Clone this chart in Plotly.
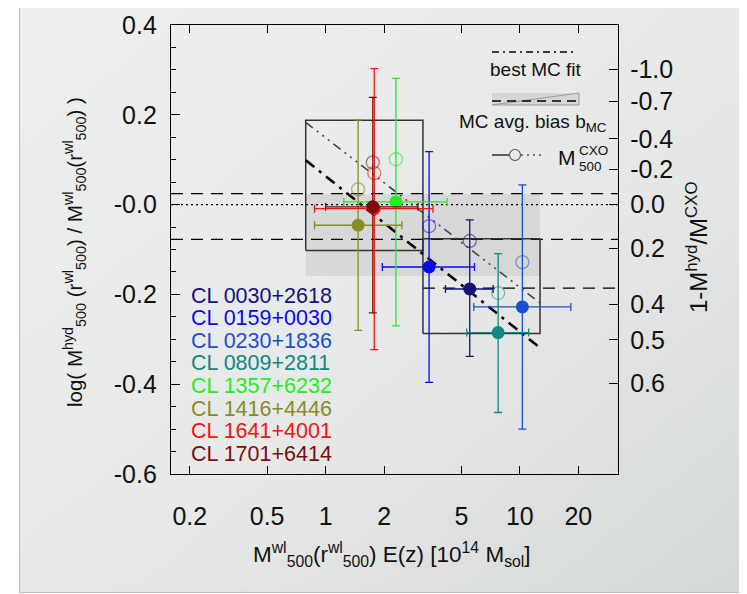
import base64
import numpy as np
import plotly.graph_objects as go

# ---------------- data ----------------
clusters = ["CL 0030+2618", "CL 0159+0030", "CL 0230+1836", "CL 0809+2811",
            "CL 1357+6232", "CL 1416+4446", "CL 1641+4001", "CL 1701+6414"]
colors = ["#12127a", "#0a0af0", "#1a4fd0", "#138585",
          "#22ee22", "#8a8a28", "#ee1515", "#7a0e0e"]
cxo_colors = ["rgba(18,18,122,0.55)", "rgba(10,10,240,0.5)", "rgba(26,79,208,0.5)", "rgba(19,133,133,0.5)",
              "rgba(34,238,34,0.6)", "rgba(138,138,40,0.6)", "rgba(238,21,21,0.55)", "rgba(122,14,14,0.55)"]
mass_wl = [5.52, 3.41, 10.3, 7.73, 2.30, 1.47, 1.78, 1.75]
mass_lo = [4.14, 1.96, 5.79, 5.33, 1.24, 0.877, 0.877, 1.00]
mass_hi = [7.28, 5.84, 18.3, 11.1, 4.22, 2.47, 3.57, 2.99]
bias_hyd = [-0.188, -0.139, -0.228, -0.285, 0.006, -0.046, -0.009, -0.005]
bias_lo = [-0.338, -0.396, -0.500, -0.463, -0.270, -0.280, -0.323, -0.241]
bias_hi = [-0.034, 0.118, 0.044, -0.109, 0.281, 0.189, 0.303, 0.239]
bias_cxo = [-0.081, -0.048, -0.128, -0.197, 0.101, 0.034, 0.070, 0.094]

bin_edges = [0.79, 3.17, 12.7]
bin_bias_lo = [-0.102, -0.287]
bin_bias_hi = [0.188, -0.076]
mc_band = [-0.159, 0.023]
mc_bias_levels = [0.0245, -0.0775, -0.186]
mc_bias_start = [0.16, 0.16, 3.17]
fit_mc_x = [0.79, 12.7]
fit_mc_y = [0.099, -0.319]
fit_cxo_x = [0.79, 12.7]
fit_cxo_y = [0.183, -0.219]

x_range = [0.16, 32.0]
y_range = [-0.6, 0.4]
x_ticks = [0.2, 0.5, 1, 2, 5, 10, 20]
x_ticktext = ["0.2", "0.5", "1", "2", "5", "10", "20"]
y_ticks = [-0.6, -0.4, -0.2, 0.0, 0.2, 0.4]
y_ticktext = ["-0.6", "-0.4", "-0.2", "-0.0", "0.2", "0.4"]
b_ticks = [-1.0, -0.7, -0.4, -0.2, 0.0, 0.2, 0.4, 0.5, 0.6]
b_ticktext = ["-1.0", "-0.7", "-0.4", "-0.2", "0.0", "0.2", "0.4", "0.5", "0.6"]

# ---------------- geometry helpers (layout) ----------------
OFF = 8  # page body margin
W, H = 747 - OFF, 594 - OFF
PW, PH = 447, 449
L, T = 171 - OFF, 25 - OFF
R, B = W - L - PW, H - T - PH


def px(xp):
    return (xp - OFF - L) / PW


def py(yp):
    return (T + PH - (yp - OFF)) / PH


FONT = "Liberation Sans, Arial, Helvetica, sans-serif"

fig = go.Figure()

# MC grey band
fig.add_trace(go.Scatter(
    x=[bin_edges[0], bin_edges[-1], bin_edges[-1], bin_edges[0], bin_edges[0]],
    y=[mc_band[0], mc_band[0], mc_band[1], mc_band[1], mc_band[0]],
    mode="lines", fill="toself", fillcolor="rgba(200,200,200,0.55)",
    line=dict(width=0), hoverinfo="skip"))

# zero line
fig.add_trace(go.Scatter(x=x_range, y=[0, 0], mode="lines",
                         line=dict(color="black", width=1.2, dash="2px,3px"), hoverinfo="skip"))

# MC avg bias dashed lines
for lev, xs in zip(mc_bias_levels, mc_bias_start):
    fig.add_trace(go.Scatter(x=[xs, x_range[1]], y=[lev, lev], mode="lines",
                             line=dict(color="black", width=1.3, dash="12px,8px"), hoverinfo="skip"))

# bin boxes
for i in range(len(bin_edges) - 1):
    x0, x1 = bin_edges[i], bin_edges[i + 1]
    y0, y1 = bin_bias_lo[i], bin_bias_hi[i]
    fig.add_trace(go.Scatter(x=[x0, x1, x1, x0, x0], y=[y0, y0, y1, y1, y0], mode="lines",
                             line=dict(color="#333333", width=1.5), hoverinfo="skip"))

# fits
fig.add_trace(go.Scatter(x=fit_cxo_x, y=fit_cxo_y, mode="lines",
                         line=dict(color="#444444", width=1.6, dash="9px,5px,2px,5px,2px,5px,2px,5px"),
                         hoverinfo="skip"))
fig.add_trace(go.Scatter(x=fit_mc_x, y=fit_mc_y, mode="lines",
                         line=dict(color="black", width=2.6, dash="11px,6px,3px,6px"),
                         hoverinfo="skip"))

# CXO open circles
for i in range(len(clusters)):
    fig.add_trace(go.Scatter(x=[mass_wl[i]], y=[bias_cxo[i]], mode="markers",
                             marker=dict(symbol="circle-open", size=13, color=cxo_colors[i],
                                         line=dict(width=1.3, color=cxo_colors[i])),
                             hoverinfo="skip"))

# hydrostatic masses with errors
for i in range(len(clusters)):
    fig.add_trace(go.Scatter(
        x=[mass_wl[i]], y=[bias_hyd[i]], mode="markers", name=clusters[i],
        marker=dict(symbol="circle", size=13, color=colors[i]),
        error_x=dict(type="data", symmetric=False, array=[mass_hi[i] - mass_wl[i]],
                     arrayminus=[mass_wl[i] - mass_lo[i]], color=colors[i], thickness=1.3, width=4),
        error_y=dict(type="data", symmetric=False, array=[bias_hi[i] - bias_hyd[i]],
                     arrayminus=[bias_hyd[i] - bias_lo[i]], color=colors[i], thickness=1.3, width=4),
    ))

# dummy trace for right axis
fig.add_trace(go.Scatter(x=[None], y=[None], yaxis="y2", hoverinfo="skip"))

# ---------------- annotations ----------------
ann = []
row_y = [296, 318.5, 341, 363.5, 386, 408.5, 431, 453.5]
for name, col, ry in zip(clusters, colors, row_y):
    ann.append(dict(x=px(189), y=py(ry), xref="paper", yref="paper", text=name, showarrow=False,
                    xanchor="left", yanchor="middle", font=dict(family=FONT, size=21.5, color=col)))

# axis titles
ann.append(dict(x=px(392), y=py(554), xref="paper", yref="paper", showarrow=False,
                text="M<sup>wl</sup><sub>500</sub>(r<sup>wl</sup><sub>500</sub>) E(z) [10<sup>14</sup> M<sub>sol</sub>]",
                xanchor="center", yanchor="middle", font=dict(family=FONT, size=22.5, color="#111")))
ann.append(dict(x=px(74), y=py(252), xref="paper", yref="paper", showarrow=False, textangle=-90,
                text="log( M<sup>hyd</sup><sub>500</sub> (r<sup>wl</sup><sub>500</sub>) / M<sup>wl</sup><sub>500</sub>(r<sup>wl</sup><sub>500</sub>) )",
                xanchor="center", yanchor="middle", font=dict(family=FONT, size=20.5, color="#111")))
ann.append(dict(x=px(697), y=py(248), xref="paper", yref="paper", showarrow=False, textangle=-90,
                text="1-M<sup>hyd</sup>/M<sup>CXO</sup>",
                xanchor="center", yanchor="middle", font=dict(family=FONT, size=24, color="#111")))

# legend texts
ann.append(dict(x=px(536), y=py(69), xref="paper", yref="paper", showarrow=False, text="best MC fit",
                xanchor="center", yanchor="middle", font=dict(family=FONT, size=19, color="#111")))
ann.append(dict(x=px(609), y=py(123), xref="paper", yref="paper", showarrow=False,
                text="MC avg. bias b<sub>MC</sub>",
                xanchor="right", yanchor="middle", font=dict(family=FONT, size=19, color="#111")))
ann.append(dict(x=px(556), y=py(158), xref="paper", yref="paper", showarrow=False, text="M",
                xanchor="left", yanchor="middle", font=dict(family=FONT, size=21, color="#111")))
ann.append(dict(x=px(577), y=py(150), xref="paper", yref="paper", showarrow=False, text="CXO",
                xanchor="left", yanchor="middle", font=dict(family=FONT, size=13.5, color="#111")))
ann.append(dict(x=px(577), y=py(166), xref="paper", yref="paper", showarrow=False, text="500",
                xanchor="left", yanchor="middle", font=dict(family=FONT, size=13.5, color="#111")))

# legend shapes
shapes = []
shapes.append(dict(type="line", xref="paper", yref="paper", x0=px(492), x1=px(577), y0=py(52), y1=py(52),
                   line=dict(color="black", width=1.4, dash="7px,4px,2px,4px")))
shapes.append(dict(type="rect", xref="paper", yref="paper", x0=px(492), x1=px(579), y0=py(105), y1=py(93),
                   fillcolor="#d6d6d6", line=dict(width=0)))
shapes.append(dict(type="path", xref="paper", yref="paper",
                   path=f"M {px(492)} {py(105)} L {px(579)} {py(93)} L {px(579)} {py(105)} Z",
                   line=dict(color="#9a9a9a", width=1)))
shapes.append(dict(type="line", xref="paper", yref="paper", x0=px(492), x1=px(577), y0=py(101), y1=py(101),
                   line=dict(color="black", width=1.4, dash="9px,6px")))
shapes.append(dict(type="line", xref="paper", yref="paper", x0=px(492), x1=px(510), y0=py(155), y1=py(155),
                   line=dict(color="black", width=1.2)))
shapes.append(dict(type="circle", xref="paper", yref="paper", x0=px(509.5), x1=px(520.5), y0=py(160.5),
                   y1=py(149.5), line=dict(color="#555", width=1.1)))
shapes.append(dict(type="line", xref="paper", yref="paper", x0=px(521), x1=px(541), y0=py(155), y1=py(155),
                   line=dict(color="black", width=1.2, dash="2px,4px")))

# background panel with gradient
svg = ('<svg xmlns="http://www.w3.org/2000/svg" width="726" height="594" viewBox="0 0 726 594" '
       'preserveAspectRatio="none"><defs><linearGradient id="g" x1="0" y1="0" x2="1" y2="1">'
       '<stop offset="0" stop-color="#eeefef"/><stop offset="0.55" stop-color="#e7e9e8"/>'
       '<stop offset="1" stop-color="#d4d8d6"/></linearGradient></defs>'
       '<rect x="0.5" y="0.5" width="725" height="592" fill="url(#g)" stroke="#bdbdbd" stroke-width="1.2"/></svg>')
src = "data:image/svg+xml;base64," + base64.b64encode(svg.encode()).decode()
images = [dict(source=src, xref="paper", yref="paper", x=px(19), y=py(0), sizex=726 / PW, sizey=594 / PH,
               xanchor="left", yanchor="top", sizing="stretch", layer="below")]

tickfont = dict(family=FONT, size=25, color="#111")
fig.update_layout(
    width=W, height=H, margin=dict(l=L, r=R, t=T, b=B, autoexpand=False),
    paper_bgcolor="white", plot_bgcolor="rgba(0,0,0,0)", showlegend=False,
    annotations=ann, shapes=shapes, images=images,
    xaxis=dict(type="log", range=[np.log10(x_range[0]), np.log10(x_range[1])],
               tickvals=x_ticks, ticktext=x_ticktext, ticks="inside", ticklen=8, tickwidth=1.2,
               tickcolor="black", showline=True, linecolor="black", linewidth=1.3, mirror="ticks",
               showgrid=False, zeroline=False, tickfont=tickfont, ticklabelstandoff=20),
    yaxis=dict(range=y_range, tickvals=y_ticks, ticktext=y_ticktext, ticks="inside", ticklen=9,
               tickwidth=1.2, tickcolor="black", showline=True, linecolor="black", linewidth=1.3,
               mirror=False, showgrid=False, zeroline=False, tickfont=tickfont, ticklabelstandoff=8,
               minor=dict(tickmode="linear", tick0=0, dtick=0.05, ticks="inside", ticklen=5,
                          tickwidth=1.1, tickcolor="black", showgrid=False)),
    yaxis2=dict(range=y_range, overlaying="y", side="right", anchor="x",
                tickvals=list(np.log10(1 - np.array(b_ticks))), ticktext=b_ticktext,
                ticks="inside", ticklen=9, tickwidth=1.2, tickcolor="black", showline=True,
                linecolor="black", linewidth=1.3, showgrid=False, zeroline=False, tickfont=tickfont,
                ticklabelstandoff=6),
)

fig.write_html("out.html")
